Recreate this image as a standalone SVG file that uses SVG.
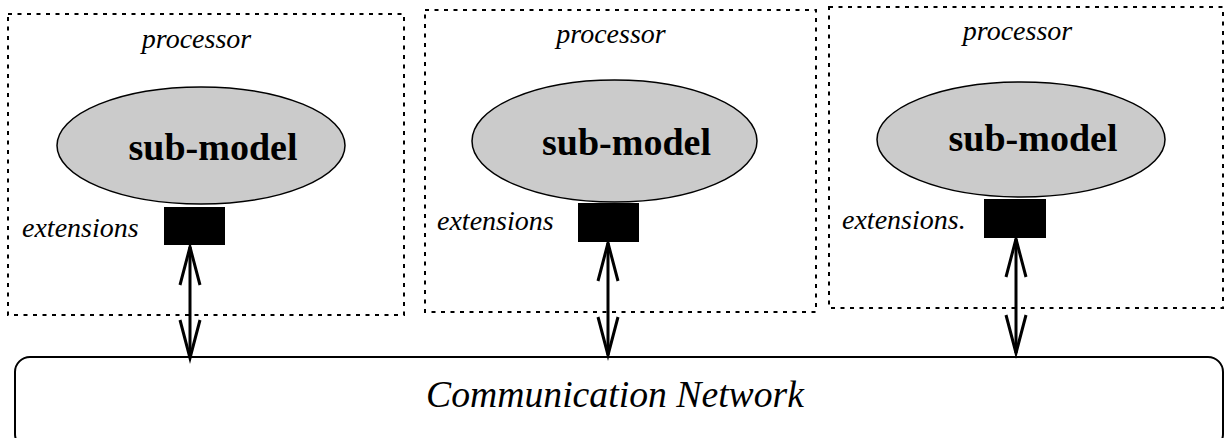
<svg xmlns="http://www.w3.org/2000/svg" width="1225" height="438" viewBox="0 0 1225 438">
  <style>
    .proc { fill: none; stroke: #000; stroke-width: 2; stroke-dasharray: 4 5.5; }
    .ell { fill: #cbcbcb; stroke: #000; stroke-width: 1.5; }
    .ext { fill: #000; }
    .it { font-family: "Liberation Serif", "Times New Roman", serif; font-style: italic; font-size: 28px; fill: #000; }
    .bold { font-family: "Liberation Serif", "Times New Roman", serif; font-weight: bold; font-size: 38px; fill: #000; text-anchor: middle; }
    .net { fill: #fff; stroke: #000; stroke-width: 2; }
    .netlabel { font-family: "Liberation Serif", "Times New Roman", serif; font-style: italic; font-size: 37px; fill: #000; }
    .conn { stroke: #000; stroke-width: 3; fill: none; marker-start: url(#v); marker-end: url(#v); }
  </style>
  <defs>
    <marker id="v" markerUnits="userSpaceOnUse" viewBox="-40 -12 42 24" refX="0" refY="0" markerWidth="42" markerHeight="24" orient="auto-start-reverse" overflow="visible">
      <path d="M-38,-10 L0,0 L-38,10" fill="none" stroke="#000" stroke-width="3" stroke-linejoin="miter"/>
    </marker>
  </defs>
  <rect width="1225" height="438" fill="#fff"/>

  <g id="network">
    <rect class="net" x="15" y="357" width="1208" height="92" rx="15" ry="15"/>
    <text class="netlabel" x="426" y="407" textLength="378" lengthAdjust="spacingAndGlyphs">Communication Network</text>
  </g>

  <g id="processor1">
    <rect class="proc" x="8" y="14" width="396" height="301"/>
    <text class="it" x="196.5" y="48" text-anchor="middle">processor</text>
    <ellipse class="ell" cx="201" cy="145.5" rx="144" ry="58.5"/>
    <text class="bold" x="213" y="160">sub-model</text>
    <rect class="ext" x="164" y="207" width="61" height="38"/>
    <text class="it" x="22" y="237">extensions</text>
  </g>

  <g id="processor2">
    <rect class="proc" x="425" y="10" width="391" height="302"/>
    <text class="it" x="611" y="43" text-anchor="middle">processor</text>
    <ellipse class="ell" cx="614.5" cy="141" rx="142.5" ry="61"/>
    <text class="bold" x="626.5" y="155">sub-model</text>
    <rect class="ext" x="578" y="203" width="61" height="39"/>
    <text class="it" x="437" y="230">extensions</text>
  </g>

  <g id="processor3">
    <rect class="proc" x="829" y="7" width="394" height="301"/>
    <text class="it" x="1017.5" y="40" text-anchor="middle">processor</text>
    <ellipse class="ell" cx="1021" cy="139.5" rx="144" ry="57.5"/>
    <text class="bold" x="1033" y="151">sub-model</text>
    <rect class="ext" x="984" y="199" width="62" height="39"/>
    <text class="it" x="842" y="229">extensions.</text>
  </g>

  <g id="connectors">
    <line class="conn" x1="190" y1="247" x2="190" y2="358"/>
    <line class="conn" x1="608" y1="243" x2="608" y2="355"/>
    <line class="conn" x1="1016" y1="239" x2="1016" y2="353"/>
  </g>
</svg>
